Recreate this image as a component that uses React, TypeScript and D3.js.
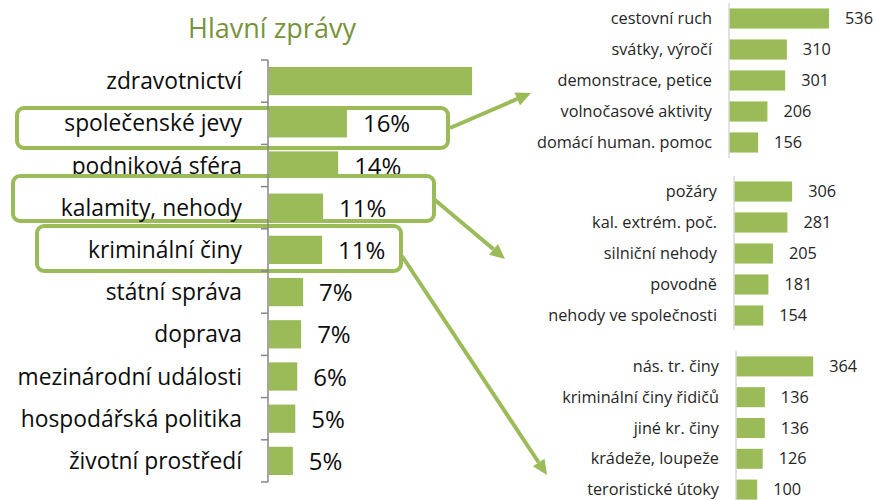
import React from 'react';
import { scaleBand, scaleLinear } from 'd3';

// main chart
const mainCategories = [
  'zdravotnictví', 'společenské jevy', 'podniková sféra', 'kalamity, nehody', 'kriminální činy',
  'státní správa', 'doprava', 'mezinárodní události', 'hospodářská politika', 'životní prostředí',
];
const mainValues = [41.7, 16, 14.2, 11.1, 10.9, 7, 6.6, 5.8, 5.4, 4.9];
const mainLabels = ['', '16%', '14%', '11%', '11%', '7%', '7%', '6%', '5%', '5%'];

// detail charts
const socCategories = ['cestovní ruch', 'svátky, výročí', 'demonstrace, petice', 'volnočasové aktivity', 'domácí human. pomoc'];
const socValues = [536, 310, 301, 206, 156];
const kalCategories = ['požáry', 'kal. extrém. poč.', 'silniční nehody', 'povodně', 'nehody ve společnosti'];
const kalValues = [306, 281, 205, 181, 154];
const krimCategories = ['nás. tr. činy', 'kriminální činy řidičů', 'jiné kr. činy', 'krádeže, loupeže', 'teroristické útoky'];
const krimValues = [364, 136, 136, 126, 100];

const GREEN = '#9BBB59';
const FONT = '"Open Sans", "Noto Sans", sans-serif';

const width = 875;
const height = 500;

const Arrow = ({ x1, y1, x2, y2 }) => {
  const a = Math.atan2(y2 - y1, x2 - x1);
  const len = 15, hw = 7;
  const bx = x2 - len * Math.cos(a), by = y2 - len * Math.sin(a);
  const px = -Math.sin(a) * hw, py = Math.cos(a) * hw;
  return (
    <g>
      <line x1={x1} y1={y1} x2={bx} y2={by} stroke={GREEN} strokeWidth={4} />
      <polygon points={`${x2},${y2} ${bx + px},${by + py} ${bx - px},${by - py}`} fill={GREEN} />
    </g>
  );
};

const Detail = ({ cats, vals, x0, pxPerUnit, y0, y1, axisBottom }) => {
  const y = scaleBand().domain(cats).range([y0, y1]).paddingInner(0.35).paddingOuter(0.175);
  const x = scaleLinear().domain([0, 100]).range([x0, x0 + 100 * pxPerUnit]);
  return (
    <g fontFamily={FONT} fontSize={16.3} fill="#262626">
      {cats.map((c, i) => {
        const cy = y(c) + y.bandwidth() / 2;
        return (
          <g key={c}>
            <text x={x0 - 17} y={cy + 5.5} textAnchor="end">{c}</text>
            <rect x={x(0)} y={y(c)} width={x(vals[i]) - x(0)} height={y.bandwidth()} fill={GREEN} />
            <text x={x(vals[i]) + 16} y={cy + 5.5}>{vals[i]}</text>
          </g>
        );
      })}
      <line x1={x0} x2={x0} y1={y0} y2={axisBottom} stroke="#D9D9D9" strokeWidth={1.5} />
    </g>
  );
};

const App = () => {
  const top = 60, bottom = 482, axisX = 268;
  const y = scaleBand().domain(mainCategories).range([top, bottom]).paddingInner(0.33).paddingOuter(0.165);
  const x = scaleLinear().domain([0, 45]).range([axisX + 1, axisX + 1 + 45 * 4.87]);

  const row = (i) => {
    const c = mainCategories[i];
    const cy = y(c) + y.bandwidth() / 2;
    return (
      <g key={c}>
        <text x={242} y={cy + 8} textAnchor="end">{c}</text>
        <rect x={x(0)} y={y(c)} width={x(mainValues[i]) - x(0)} height={y.bandwidth()} fill={GREEN} />
        {mainLabels[i] && <text x={x(mainValues[i]) + 16} y={cy + 9} fontSize={24}>{mainLabels[i]}</text>}
      </g>
    );
  };

  const boxes = [
    { idx: 1, x: 17, y: 108, w: 431, h: 40 },
    { idx: 3, x: 13, y: 176, w: 421, h: 45 },
    { idx: 4, x: 37, y: 226, w: 364, h: 45 },
  ];
  const boxed = boxes.map(b => b.idx);
  const step = y.step();
  const ticks = mainCategories.map((c, i) => top + i * step).concat([bottom]);

  return (
    <svg width={width} height={height} style={{ position: 'absolute', left: 0, top: 0, background: '#fff' }}>
      <text x={272} y={38} textAnchor="middle" fontFamily={FONT} fontSize={27} fill="#77933C">Hlavní zprávy</text>

      <g fontFamily={FONT} fontSize={22.8} fill="#0D0D0D">
        {mainCategories.map((c, i) => (boxed.includes(i) ? null : row(i)))}
        {boxes.map(b => (
          <g key={b.idx}>
            <rect x={b.x} y={b.y} width={b.w} height={b.h} rx={7} fill="#fff" stroke={GREEN} strokeWidth={4} />
            {row(b.idx)}
          </g>
        ))}
        <line x1={axisX} x2={axisX} y1={top} y2={bottom} stroke="#868686" strokeWidth={1.5} />
        {ticks.map((t, i) => (
          <line key={i} x1={axisX - 7} x2={axisX} y1={t} y2={t} stroke="#868686" strokeWidth={1.5} />
        ))}
      </g>

      <Arrow x1={450} y1={128} x2={531} y2={93} />
      <Arrow x1={435} y1={200} x2={505} y2={259} />
      <Arrow x1={402} y1={256} x2={547} y2={475} />

      <Detail cats={socCategories} vals={socValues} x0={729} pxPerUnit={0.1866} y0={3} y1={158} axisBottom={158} />
      <Detail cats={kalCategories} vals={kalValues} x0={734} pxPerUnit={0.19} y0={176} y1={331} axisBottom={330} />
      <Detail cats={krimCategories} vals={krimValues} x0={736} pxPerUnit={0.212} y0={351} y1={505} axisBottom={510} />
    </svg>
  );
};

export default App;
